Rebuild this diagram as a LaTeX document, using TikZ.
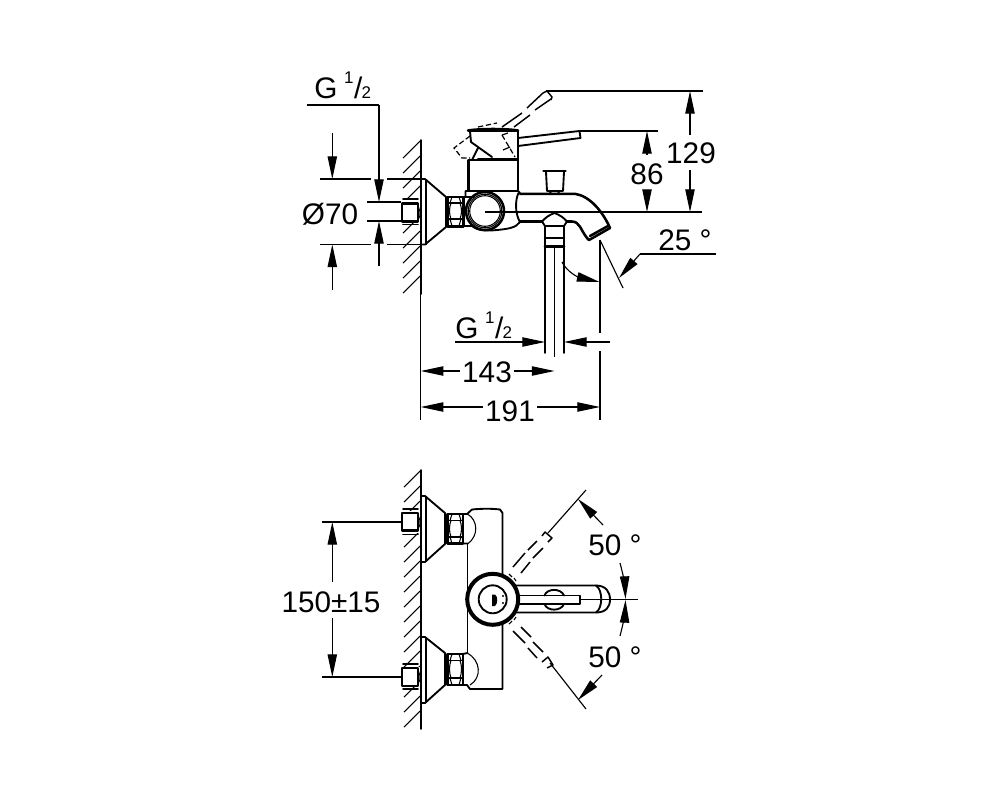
\documentclass[tikz,border=0pt]{standalone}
\usepackage{fontspec}
\setmainfont{Liberation Sans}
\usetikzlibrary{arrows.meta}
\tikzset{
  thin line/.style={line width=0.85pt,line cap=butt},
  dim/.style={thin line,-{Triangle[length=17pt,width=7pt]}},
  body/.style={line width=1.4pt,line join=round,line cap=round},
  heavy/.style={line width=1.9pt,line join=round,line cap=round},
  fine/.style={line width=0.8pt,line join=round},
  ghost/.style={line width=1.1pt,line join=round},
  sketchy/.style={line width=0.9pt,dash pattern=on 4pt off 2pt},
  hatch/.style={line width=0.8pt},
  lab/.style={anchor=base,inner sep=0pt,font=\fontsize{22.3}{22.3}\selectfont},
}
\newcommand{\gonehalf}{G\kern5pt\raisebox{11pt}{\fontsize{12.7}{12.7}\selectfont 1}\kern0.5pt/\kern-0.5pt{\fontsize{12.7}{12.7}\selectfont 2}}
\begin{document}
\begin{tikzpicture}[x=0.75pt,y=-0.75pt]
\useasboundingbox (0,0) rectangle (1000,800);
\fill[white] (0,0) rectangle (1000,800);
% ---- walls
\draw[body] (420.7,140) -- (420.7,294);
\draw[body] (420.7,470) -- (420.7,729);
\foreach \y in {141,156,171,186,201,216,231,246,261,276} {
  \draw[hatch] (420,\y) -- (403,\y+17);
}
\foreach \y in {471,486,501,516,531,546,561,576,591,606,621,636,651,666,681,696,711} {
  \draw[hatch] (420,\y) -- (404,\y+16);
}
\fill[white] (399,200) rectangle (420,223);
\fill[white] (399,511) rectangle (420,533);
\fill[white] (399,667) rectangle (420,687);
% ---- top view: nipple, flange, nut
\draw[heavy] (402,203.5) rectangle (418,221.5);
\draw[body] (403,199) -- (418,199) (403,224.5) -- (418,224.5);
\draw[fine] (418,206) -- (419.8,211) -- (419.8,216) -- (418,220);
\draw[body] (421,179) -- (425,179) -- (446,197) -- (446,227) -- (425,244.5) -- (421,244.5);
\draw[fine] (426,179) -- (426,244.5);
\draw[heavy] (447.5,197) rectangle (463.5,226.5);
\draw[body] (447.5,203) -- (463.5,203) (447.5,219) -- (463.5,219);
\draw[fine] (451,203) .. controls (449,208) and (449,214) .. (451,219);
\draw[fine] (460,203) .. controls (462,208) and (462,214) .. (460,219);
\draw[fine] (452,197) -- (450,203) (459,197) -- (461,203) (450,219) -- (452,226) (461,219) -- (459,226);
% ---- top view: body
\draw[body] (463.5,197) -- (474,197) (463.5,226) -- (472,226);
\draw[heavy] (468.5,190) -- (468.5,160) -- (518,160) -- (518,190);
\draw[body] (465.5,197) -- (465.5,191) -- (518,191) -- (520,193);
\draw[body] (472,226) .. controls (478,231) and (487,231) .. (497,230) .. controls (507,229) and (516,228) .. (520,222);
\draw[body] (518.5,193) .. controls (515,200) and (515,214) .. (520,222);
\draw[heavy] (485,211) circle (19);
\draw[fine] (485,211) circle (16.8);
\draw[fine] (485,211) circle (15.3);
% ---- top view: spout
\draw[heavy] (520,193.8) -- (575,193.8) .. controls (590,196) and (603,212) .. (610,228);
\draw[heavy] (520,221.5) -- (542,221.5);
\draw[heavy] (567,221.5) -- (572,221.5) .. controls (580,222) and (580,229) .. (587,238);
\draw[heavy] (587,238) -- (589,240) -- (610,228);
\draw[heavy] (590,236) -- (608,226);
% ---- top view: diverter
\draw[heavy] (543.5,171) -- (565.5,171);
\draw[body] (546,172) -- (547,191) -- (563,191) -- (564,172);
\draw[body] (550,191.5) -- (551,194) -- (558,194) -- (559,191.5);
% ---- top view: inlet
\draw[body] (554.5,213) .. controls (549,215) and (545,218) .. (542,221.5) -- (545,226) -- (564,226) -- (567,221.5) .. controls (564,218) and (560,215) .. (554.5,213);
\draw[body] (545,226) -- (545,353) (564,226) -- (564,353);
\draw[heavy] (545,238) -- (564,238) (545,246.5) -- (564,246.5);
\draw[thin line] (554.5,247) -- (554.5,357);
% ---- top view: lever
\draw[heavy] (468,130.5) .. controls (480,128.5) and (506,128.5) .. (518,130.5) -- cycle;
\draw[body] (470,131) -- (471,142) -- (492,157);
\draw[body] (478,158.5) -- (517,158.5);
\draw[body] (478,148) -- (472,160);
\draw[body] (518,130.5) -- (518,160);
\draw[body] (518,138) -- (579.5,131) -- (580.5,138) -- (518,146);
\draw[ghost] (502,127) -- (522,113) (527,108) -- (543,93);
\draw[ghost] (514,127) -- (530,115) (535,110) -- (551,99);
\draw[ghost] (543,93) -- (547,91) -- (552,97) -- (551,100);
\draw[sketchy] (470,136) -- (454,148) -- (462,158) -- (470,158);
\draw[sketchy] (478,127) -- (497,123);
\draw[sketchy] (502,135) -- (515,157);
\draw[ghost,line width=0.9pt] (502,135) -- (508,133) (503,150) -- (510,147);
% ---- top view: dimensions
\draw[thin line] (546,91) -- (703,91);
\draw[thin line] (580,131) -- (658,131);
\draw[thin line] (485,212) -- (702,212);
\draw[dim] (332.3,133) -- (332.3,179);
\draw[dim] (332.3,290) -- (332.3,244.5);
\draw[thin line] (320,179) -- (371,179) (387,179) -- (420,179);
\draw[thin line] (320,244.5) -- (371,244.5) (387,244.5) -- (420,244.5);
\draw[thin line] (307,105) -- (379,105);
\draw[dim] (379,105) -- (379,202);
\draw[dim] (379,266) -- (379,221);
\draw[thin line] (367,202) -- (401,202) (367,221) -- (401,221);
\draw[dim] (647,155) -- (647,131);
\draw[dim] (647,190) -- (647,212);
\draw[dim] (690,135) -- (690,91);
\draw[dim] (690,170) -- (690,212);
\draw[thin line] (600,240) -- (600,333) (600,351) -- (600,420);
\draw[thin line] (420.7,294) -- (420.7,420);
\draw[thin line] (600,240) -- (623,288);
\draw[thin line] (716,254) -- (640,254);
\draw[dim] (640,254) -- (619,278);
\draw[dim] (562,262) .. controls (567,272) and (578,277) .. (599.5,282);
\draw[thin line] (455,342) -- (522,342);
\draw[dim] (522,342) -- (545,342);
\draw[dim] (610,342) -- (564,342);
\draw[dim] (460,371) -- (420.7,371);
\draw[dim] (514,371) -- (554.5,371);
\draw[dim] (483,407) -- (420.7,407);
\draw[dim] (537,407) -- (600,407);
% ---- front view: upper flange and nut
\draw[heavy] (402,513) rectangle (418,530.5);
\draw[body] (403,509) -- (418,509) (403,534.5) -- (418,534.5);
\draw[fine] (418,515) -- (419.8,520) -- (419.8,525) -- (418,529);
\draw[body] (421,496) -- (425,496) -- (445,513) -- (445,544) -- (425,562) -- (421,562);
\draw[fine] (426,496) -- (426,562);
\draw[heavy] (447.5,514) rectangle (463,543.5);
\draw[body] (447.5,520.5) -- (463,520.5) (447.5,537) -- (463,537);
\draw[fine] (451,520.5) .. controls (449,525) and (449,532) .. (451,537);
\draw[fine] (460,520.5) .. controls (462,525) and (462,532) .. (460,537);
\draw[fine] (452,514) -- (450,520.5) (459,514) -- (461,520.5) (450,537) -- (452,543.5) (461,537) -- (459,543.5);
% ---- front view: lower flange and nut
\draw[heavy] (402,668) rectangle (418,686);
\draw[body] (403,664) -- (418,664) (403,689) -- (418,689);
\draw[fine] (418,670) -- (419.8,675) -- (419.8,680) -- (418,684);
\draw[body] (421,637) -- (425,637) -- (445,653) -- (445,685) -- (425,703) -- (421,703);
\draw[fine] (426,637) -- (426,703);
\draw[heavy] (447.5,654) rectangle (463,685);
\draw[body] (447.5,660.5) -- (463,660.5) (447.5,678) -- (463,678);
\draw[fine] (451,660.5) .. controls (449,665) and (449,673) .. (451,678);
\draw[fine] (460,660.5) .. controls (462,665) and (462,673) .. (460,678);
\draw[fine] (452,654) -- (450,660.5) (459,654) -- (461,660.5) (450,678) -- (452,685) (461,678) -- (459,685);
% ---- front view: body
\draw[body] (463,514) -- (467,514) -- (472,509.5) .. controls (482,508.5) and (492,508.5) .. (500,509.5) -- (502.5,513) -- (502.5,689) -- (470,689) -- (467,685) -- (463,685);
\draw[body] (467.5,544) -- (467.5,653);
\draw[body] (463,543.5) -- (467.5,543.5) (463,654) -- (467.5,653);
\draw[fine] (467.5,514) .. controls (478,520) and (479,536) .. (467.5,544);
\draw[fine] (467,653) .. controls (481,660) and (482,678) .. (470,685);
% ---- front view: handle
\draw[body] (515,585.5) -- (596,585.5) .. controls (606,585.5) and (610,592) .. (610,599.5) .. controls (610,607) and (606,612.5) .. (596,612.5) -- (515,612.5);
\draw[body] (596,585.5) .. controls (603,590) and (603,608) .. (596,612.5);
\draw[body] (544.5,595.5) .. controls (547,588) and (561,588) .. (564,595.5);
\draw[body] (544.5,604) .. controls (547,611.5) and (561,611.5) .. (564,604);
\draw[body] (518,595.5) -- (580,595.5) -- (580,604) -- (518,604);
\fill[white] (492.7,599.3) circle (26);
\draw[line width=3pt] (492.7,599.3) circle (25.5);
\draw[body] (492.7,599.3) circle (14);
\fill (492,594.5) -- (495,594.5) .. controls (498,596) and (498,604) .. (495,606) -- (492,606) -- cycle;
\fill (503,596) circle (1.2) (503,603) circle (1.2);
% ---- front view: ghost levers
\draw[thin line] (586,490) -- (548,533);
\draw[thin line] (586,709) -- (550,663);
\draw[ghost] (513,567) -- (525,553) (528,550) -- (537,541);
\draw[ghost] (521,573) -- (530,562) (533,558) -- (543,548);
\draw[ghost] (513,631) -- (525,643) (528,648) -- (537,658);
\draw[ghost] (521,627) -- (531,637) (533,642) -- (543,652);
\draw[ghost] (542,536) -- (545,532) -- (552,538) -- (548,542);
\draw[ghost] (542,662) -- (548,657) -- (553,665) -- (547,668);
\draw[fine] (509,574) -- (512,577) (514,578) -- (516,581);
\draw[fine] (509,624) -- (512,621) (514,620) -- (516,617);
% ---- front view: dimensions
\draw[thin line] (322,522) -- (401,522);
\draw[thin line] (322,677) -- (401,677);
\draw[dim] (332.3,582) -- (332.3,522);
\draw[dim] (332.3,618) -- (332.3,677);
\draw[thin line] (580,599.5) -- (638,599.5);
\draw[dim] (603,525) -- (578,499);
\draw[dim] (620,563) .. controls (623,574) and (625,586) .. (625.5,599);
\draw[dim] (620,636) .. controls (623,625) and (625,612) .. (625.5,600);
\draw[dim] (602,675) -- (578,700);
% ---- labels
\node[lab,anchor=base west] (g1) at (314,98.5) {\gonehalf};
\node[lab] (d70) at (330,224.5) {Ø70};
\node[lab] (d86) at (647,184) {86};
\node[lab] (d129) at (691,163) {129};
\node[lab] (a25) at (685,250) {25 °};
\node[lab,anchor=base west] (g2) at (455,338) {\gonehalf};
\node[lab] (d143) at (487,382) {143};
\node[lab] (d191) at (510,421) {191};
\node[lab] (d150) at (331,612) {150±15};
\node[lab] (a50t) at (615,555) {50 °};
\node[lab] (a50b) at (615,667) {50 °};
\end{tikzpicture}
\end{document}
